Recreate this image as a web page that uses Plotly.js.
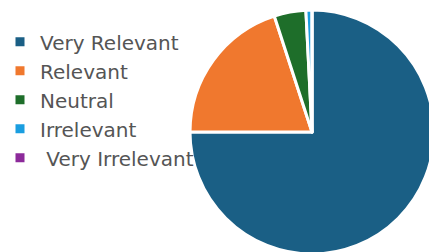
<!DOCTYPE html>
<html><head><meta charset="utf-8">
<script src="https://cdn.plot.ly/plotly-3.0.1.min.js"></script>
<style>html,body{margin:0;padding:0;overflow:hidden;background:#fff}</style>
</head><body><div id="chart"></div>
<script>
const categories = ["Very Relevant", "Relevant", "Neutral", "Irrelevant", "\u00a0Very Irrelevant"];
const values = [75, 20, 4.2, 0.8, 0];
const colors = ["#1a5f85", "#f0782e", "#1e6e2a", "#1a9ee0", "#8c2a9a"];

const W = 440, H = 264;
const trace = {
  type: "pie",
  labels: categories,
  values: values,
  sort: false,
  direction: "clockwise",
  rotation: 0,
  textinfo: "none",
  hoverinfo: "label+percent",
  marker: {colors: colors, line: {color: "#ffffff", width: 3}},
  domain: {x: [190 / W, 434 / W], y: [0, 1]}
};
const layout = {
  width: W, height: H,
  margin: {l: 0, r: 0, t: 10, b: 10},
  paper_bgcolor: "#ffffff",
  showlegend: true,
  legend: {
    x: 0, xanchor: "left", y: 0.95, yanchor: "top",
    font: {family: "'DejaVu Sans', sans-serif", size: 20, color: "#555555"},
    bgcolor: "rgba(0,0,0,0)"
  }
};
Plotly.newPlot("chart", [trace], layout, {displayModeBar: false, staticPlot: true});
</script></body></html>
